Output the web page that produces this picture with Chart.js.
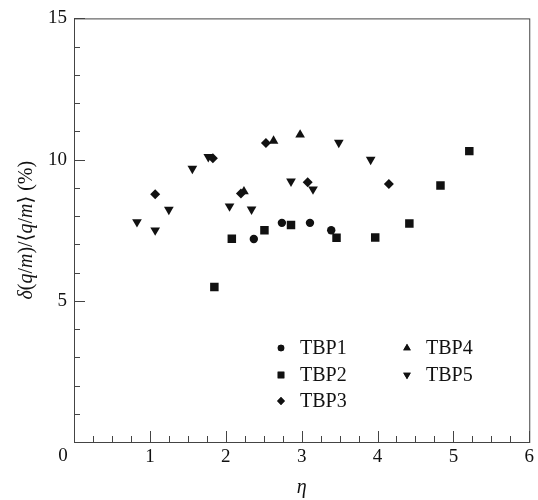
<!DOCTYPE html>
<html>
<head>
<meta charset="utf-8">
<script src="https://cdn.jsdelivr.net/npm/chart.js@4/dist/chart.umd.min.js"></script>
<style>
  body { margin: 0; background: #fff; }
  #wrap { width: 538px; height: 500px; }
</style>
</head>
<body>
<div id="wrap"><canvas id="chart" width="538" height="500"></canvas></div>
<script>
// valores (eta, delta)
const tbp1X = [2.37, 2.74, 3.11, 3.39];
const tbp1Y = [7.19, 7.76, 7.76, 7.50];
const tbp2X = [1.85, 2.08, 2.51, 2.86, 3.46, 3.97, 4.42, 4.83, 5.21];
const tbp2Y = [5.49, 7.20, 7.50, 7.68, 7.23, 7.24, 7.74, 9.08, 10.30];
const tbp3X = [1.07, 1.83, 2.20, 2.53, 3.08, 4.15];
const tbp3Y = [8.77, 10.05, 8.80, 10.59, 9.20, 9.14];
const tbp4X = [2.24, 2.63, 2.98];
const tbp4Y = [8.87, 10.66, 10.88];
const tbp5X = [0.83, 1.07, 1.25, 1.56, 1.77, 2.05, 2.34, 2.86, 3.15, 3.49, 3.91];
const tbp5Y = [7.79, 7.50, 8.23, 9.68, 10.10, 8.35, 8.24, 9.23, 8.95, 10.60, 10.00];

const seriesNames = ['TBP1', 'TBP2', 'TBP3', 'TBP4', 'TBP5'];
const xTicks = [0, 1, 2, 3, 4, 5, 6];
const yTicks = [0, 5, 10, 15];

const serif = "'Liberation Serif', 'DejaVu Serif', serif";
const ink = '#111';

function pts(xs, ys) {
  return xs.map((x, i) => ({ x: x, y: ys[i] }));
}

const markers = [
  { style: 'circle', rot: 0, r: 4.2 },
  { style: 'rect', rot: 0, r: 6 },
  { style: 'rectRot', rot: 0, r: 5 },
  { style: 'triangle', rot: 0, r: 5.6 },
  { style: 'triangle', rot: 180, r: 5.6 }
];
const allData = [pts(tbp1X, tbp1Y), pts(tbp2X, tbp2Y), pts(tbp3X, tbp3Y), pts(tbp4X, tbp4Y), pts(tbp5X, tbp5Y)];

const datasets = seriesNames.map((name, i) => ({
  label: name,
  data: allData[i],
  pointStyle: markers[i].style,
  rotation: markers[i].rot,
  pointRadius: markers[i].r,
  pointHoverRadius: markers[i].r,
  backgroundColor: ink,
  borderColor: ink,
  borderWidth: 0
}));

// moldura, ticks para dentro, legenda e títulos
const framePlugin = {
  id: 'frame',
  afterDraw(chart) {
    const ctx = chart.ctx;
    const a = chart.chartArea;
    const xs = chart.scales.x;
    const ys = chart.scales.y;
    ctx.save();
    ctx.strokeStyle = '#444';
    ctx.lineWidth = 1;
    ctx.strokeRect(a.left + 0.5, a.top + 0.5, a.right - a.left, a.bottom - a.top);

    ctx.beginPath();
    for (let v = 0; v <= 6.001; v += 0.25) {
      const px = Math.round(xs.getPixelForValue(v)) + 0.5;
      const len = Math.abs(v - Math.round(v)) < 0.01 ? 11 : 6;
      ctx.moveTo(px, a.bottom);
      ctx.lineTo(px, a.bottom - len);
    }
    for (let v = 0; v <= 15.001; v += 1) {
      const py = Math.round(ys.getPixelForValue(v)) + 0.5;
      const len = v % 5 === 0 ? 11 : 6;
      ctx.moveTo(a.left, py);
      ctx.lineTo(a.left + len, py);
    }
    ctx.stroke();

    // "0" comum aos dois eixos
    ctx.fillStyle = ink;
    ctx.font = '19px ' + serif;
    ctx.textAlign = 'center';
    ctx.textBaseline = 'middle';
    ctx.fillText('0', xs.getPixelForValue(0) - 11, a.bottom + 14);

    // título do eixo x
    ctx.font = 'italic 20px ' + serif;
    ctx.fillText('η', (a.left + a.right) / 2, 488);

    // título do eixo y
    const parts = [
      ['δ', true], ['(', false], ['q', true], ['/', false], ['m', true],
      [')/⟨', false], ['q', true], ['/', false], ['m', true], ['⟩ (%)', false]
    ];
    ctx.translate(27, (a.top + a.bottom) / 2);
    ctx.rotate(-Math.PI / 2);
    let total = 0;
    parts.forEach(p => {
      ctx.font = (p[1] ? 'italic ' : '') + '20px ' + serif;
      total += ctx.measureText(p[0]).width;
    });
    let cx = -total / 2;
    ctx.textAlign = 'left';
    parts.forEach(p => {
      ctx.font = (p[1] ? 'italic ' : '') + '20px ' + serif;
      ctx.fillText(p[0], cx, 0);
      cx += ctx.measureText(p[0]).width;
    });
    ctx.restore();

    // legenda em duas colunas
    ctx.save();
    ctx.fillStyle = ink;
    ctx.strokeStyle = ink;
    ctx.font = '20px ' + serif;
    ctx.textAlign = 'left';
    ctx.textBaseline = 'middle';
    const cols = [281, 407];
    const rows = [348, 375, 401];
    seriesNames.forEach((name, i) => {
      const col = i < 3 ? 0 : 1;
      const row = i < 3 ? i : i - 3;
      const mx = cols[col];
      const my = rows[row];
      Chart.helpers.drawPoint(ctx, {
        pointStyle: markers[i].style,
        rotation: markers[i].rot,
        radius: markers[i].r * 0.78,
        borderWidth: 0
      }, mx, my);
      ctx.fill();
      ctx.fillText(name, mx + 19, my + 1);
    });
    ctx.restore();
  }
};

new Chart(document.getElementById('chart'), {
  type: 'scatter',
  data: { datasets: datasets },
  options: {
    responsive: false,
    animation: false,
    layout: { padding: { left: 0, top: 18, right: 5, bottom: 0 } },
    plugins: {
      legend: { display: false },
      tooltip: { enabled: false }
    },
    scales: {
      x: {
        type: 'linear',
        min: 0,
        max: 6,
        afterFit: (s) => { s.height = 58; },
        afterBuildTicks: (s) => { s.ticks = xTicks.map(v => ({ value: v })); },
        grid: { display: false, drawTicks: false },
        border: { display: false },
        ticks: {
          color: ink,
          font: { family: serif, size: 19 },
          padding: 4,
          maxRotation: 0,
          callback: (v) => (v === 0 ? '' : v)
        }
      },
      y: {
        type: 'linear',
        min: 0,
        max: 15,
        afterFit: (s) => { s.width = 74; },
        afterBuildTicks: (s) => { s.ticks = yTicks.map(v => ({ value: v })); },
        grid: { display: false, drawTicks: false },
        border: { display: false },
        ticks: {
          color: ink,
          font: { family: serif, size: 19 },
          padding: 7,
          callback: (v) => (v === 0 ? '' : v)
        }
      }
    }
  },
  plugins: [framePlugin]
});
</script>
</body>
</html>
